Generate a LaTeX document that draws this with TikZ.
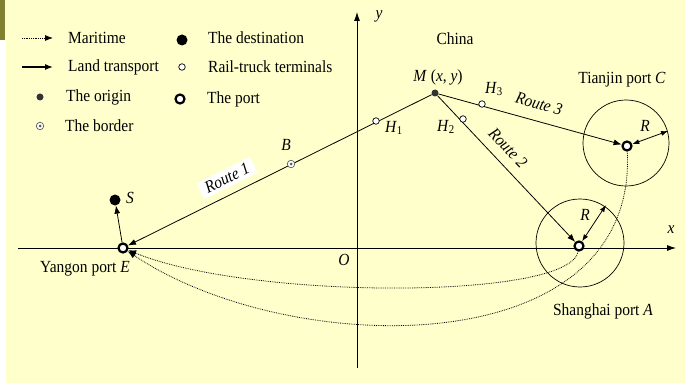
\documentclass[tikz,border=0pt]{standalone}
\usepackage{fontspec}
\setmainfont[FakeStretch=0.91]{Liberation Serif}
\usetikzlibrary{arrows.meta}
\definecolor{bgyellow}{RGB}{255,255,204}
\definecolor{olivebar}{RGB}{128,128,48}
\tikzset{
  every node/.style={font=\fontsize{17}{20}\selectfont},
  port/.style={circle, draw, line width=2.2pt, fill=white, minimum size=9pt, inner sep=0pt},
  terminal/.style={circle, draw, line width=0.7pt, fill=white, minimum size=6.5pt, inner sep=0pt},
  origin/.style={circle, fill=black!80, minimum size=7pt, inner sep=0pt},
  dest/.style={circle, fill=black, minimum size=11pt, inner sep=0pt},
  borderpt/.style={circle, draw=black!65, line width=0.7pt, fill=white, minimum size=7.5pt, inner sep=0pt,
     path picture={\fill[black!65] (path picture bounding box.center) circle (1.5pt);}},
  land/.style={line width=0.8pt, -{Latex[length=8pt,width=6pt]}},
  sea/.style={line width=0.8pt, densely dotted, -{Latex[length=8pt,width=6pt]}},
  radius/.style={line width=0.8pt, {Latex[length=7pt,width=5pt]}-{Latex[length=7pt,width=5pt]}},
  axis/.style={line width=0.8pt, -{Latex[length=9pt,width=6pt]}},
  lbl/.style={inner sep=1pt},
  routelbl/.style={fill=white, inner xsep=6pt, inner ysep=3pt},
}
\begin{document}
\begin{tikzpicture}[x=1pt,y=-1pt]
\useasboundingbox (0,0) rectangle (685,385);
\fill[bgyellow] (0,0) rectangle (685,385);
\fill[white] (0,40) rectangle (6,385);
\fill[white] (0,383) rectangle (685,385);
\fill[olivebar] (0,0) rectangle (5,40);

% legend
\coordinate (m1) at (22,38); \coordinate (m2) at (53,38);
\draw[sea] (m1) -- (m2);
\node[lbl, anchor=west] (tm) at (67,38) {Maritime};
\coordinate (l1) at (22,67); \coordinate (l2) at (53,67);
\draw[land, line width=1.3pt] (l1) -- (l2);
\node[lbl, anchor=west] (tl) at (67,67) {Land transport};
\node[origin] (lo) at (40,97) {};
\node[lbl, anchor=west] (to) at (65,97) {The origin};
\node[borderpt] (lb) at (40,126) {};
\node[lbl, anchor=west] (tb) at (64,126) {The border};
\node[dest] (ld) at (182,40) {};
\node[lbl, anchor=west] (td) at (207,38) {The destination};
\node[terminal] (lt) at (182,67) {};
\node[lbl, anchor=west] (tt) at (207,67) {Rail-truck terminals};
\node[port] (lp) at (180,99) {};
\node[lbl, anchor=west] (tp) at (206,99) {The port};

% axes
\coordinate (xa0) at (18,248); \coordinate (xa1) at (676,248);
\coordinate (ya0) at (357,368); \coordinate (ya1) at (357,12);
\draw[axis] (xa0) -- (xa1);
\draw[axis] (ya0) -- (ya1);
\node[lbl] (xl) at (671,230) {\textit{x}};
\node[lbl] (yl) at (379,16) {\textit{y}};
\node[lbl] (ol) at (344,260) {\textit{O}};

% zones
\draw[line width=0.7pt] (626,143) circle (43);
\draw[line width=0.7pt] (580,243) circle (44);

% points
\node[port] (E) at (123,248) {};
\node[dest] (S) at (115,200) {};
\node (M) [origin] at (435,93) {};
\node[port] (A) at (579,246) {};
\node[port] (C) at (627,146) {};

% routes
\draw[land] (M) -- (E);
\draw[land] (M) -- (A);
\draw[land] (M) -- (C);
\draw[land] (E) -- (S);
\node[borderpt] (B) at (291,164) {};
\node[terminal] (H1) at (376,121) {};
\node[terminal] (H2) at (463,119) {};
\node[terminal] (H3) at (482,104) {};

% radius arrows
\coordinate (Ar) at (606,205);
\coordinate (Cr) at (668,131);
\draw[radius] (A) -- (Ar);
\draw[radius] (C) -- (Cr);
\node[lbl] (RA) at (585,215) {\textit{R}};
\node[lbl] (RC) at (645,126) {\textit{R}};

% maritime
\draw[sea] (A) .. controls (570,300) and (250,300) .. (E);
\draw[sea] (C) .. controls (638,365) and (290,360) .. (E);

% labels
\node[lbl] (Sl) at (130,198) {\textit{S}};
\node[lbl] (Bl) at (286,145) {\textit{B}};
\node[lbl] (H1l) at (394,128) {\textit{H}\textsubscript{1}};
\node[lbl] (H2l) at (446,127) {\textit{H}\textsubscript{2}};
\node[lbl] (H3l) at (494,89) {\textit{H}\textsubscript{3}};
\node[lbl] (Ml) at (438,77) {\textit{M} (\textit{x}, \textit{y})};
\node[lbl] (china) at (455,39) {China};
\node[lbl] (tj) at (622,80) {Tianjin port \textit{C}};
\node[lbl] (sh) at (603,311) {Shanghai port \textit{A}};
\node[lbl] (yg) at (85,269) {Yangon port \textit{E}};
\node[routelbl, rotate=26.4] (r1) at (227,178) {\textit{Route 1}};
\node[lbl, rotate=-46.7] (r2) at (508,148) {\textit{Route 2}};
\node[lbl, rotate=-15.4] (r3) at (539,104) {\textit{Route 3}};
\end{tikzpicture}
\end{document}
